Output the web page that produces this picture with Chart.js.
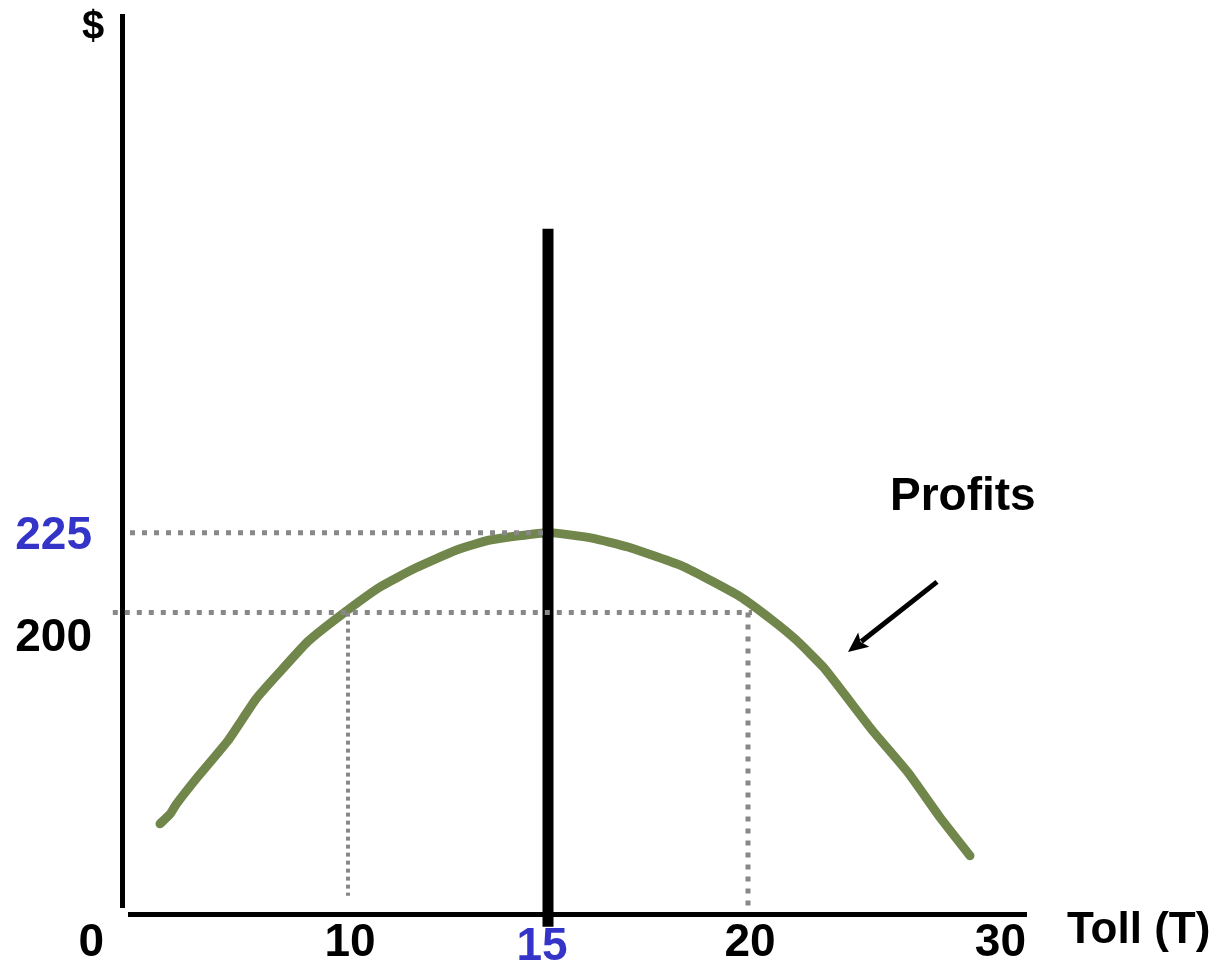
<!DOCTYPE html>
<html>
<head>
<meta charset="utf-8">
<title>Profits vs Toll</title>
<script src="https://cdn.jsdelivr.net/npm/chart.js@4/dist/chart.umd.min.js"></script>
<style>
  html, body { margin: 0; padding: 0; background: #ffffff; }
  #wrap { width: 1216px; height: 963px; }
</style>
</head>
<body>
<div id="wrap"><canvas id="chart" width="1216" height="963"></canvas></div>
<script>
// Profit curve as a function of the toll
const tolls   = [5.3, 5.55, 5.7, 6.2, 7.0, 7.7, 8.3, 9.0, 9.8, 10.8, 11.7, 12.7, 13.55, 15, 16.1, 17.0, 18.4, 19.8, 20.6, 21.2, 21.9, 23.1, 24.0, 24.8, 25.55];
const profits = [134, 137, 140, 148, 160, 173, 181.5, 191, 199, 208, 214, 219.5, 222.7, 225, 223.3, 220.5, 214.3, 205, 197.7, 191.5, 182.7, 163.3, 150, 136, 124];

// Optimal toll and the profit it yields
const optimalToll = 15;
const maxProfit = 225;
// Two tolls giving the same lower profit
const sideTolls = [10, 20];
const sideProfit = 200;

// Axis tick labels
const xTickValues = [10, 15, 20];
const xTickLabels = ['10', '15', '20'];
const yTickValues = [200, 225];
const yTickLabels = ['200', '225'];
const xStartLabel = '0';
const xEndLabel = '30';
const xAxisTitle = 'Toll (T)';
const yAxisTitle = '$';
const curveLabel = 'Profits';

// Visible window of the axes
const xRange = [4.35, 26.975];
const yRange = [105.8, 387.1];

const GREEN = '#71864b';
const BLUE = '#3434c8';
const DOT = '#888888';
const FONT = '"Liberation Sans", Arial, sans-serif';

const curveData = tolls.map((t, i) => ({ x: t, y: profits[i] }));

function dotted(points, width, dash) {
  return {
    data: points,
    borderColor: DOT,
    borderWidth: width,
    borderDash: dash,
    borderCapStyle: 'butt',
    pointRadius: 0,
    fill: false,
    clip: false,
    order: 0
  };
}

// Axes, labels and the annotation arrow
const decorations = {
  id: 'decorations',
  beforeDatasetsDraw(chart) {
    const { ctx, chartArea: a } = chart;
    ctx.save();
    ctx.strokeStyle = '#000';
    ctx.lineCap = 'butt';
    ctx.lineWidth = 5;
    ctx.beginPath();
    ctx.moveTo(a.left + 0.5, a.top);
    ctx.lineTo(a.left + 0.5, a.bottom - 6);
    ctx.stroke();
    ctx.beginPath();
    ctx.moveTo(a.left + 6, a.bottom + 0.5);
    ctx.lineTo(a.right, a.bottom + 0.5);
    ctx.stroke();
    ctx.restore();
  },
  afterDraw(chart) {
    const { ctx, chartArea: a, scales: { x, y } } = chart;
    ctx.save();
    ctx.textBaseline = 'alphabetic';

    // x tick labels
    ctx.font = 'bold 46px ' + FONT;
    ctx.textAlign = 'center';
    xTickValues.forEach((v, i) => {
      const isOpt = v === optimalToll;
      ctx.fillStyle = isOpt ? BLUE : '#000';
      const px = x.getPixelForValue(v);
      ctx.fillText(xTickLabels[i], px + (isOpt ? -6 : 2), isOpt ? 960 : 956);
    });
    ctx.fillStyle = '#000';
    ctx.textAlign = 'right';
    ctx.fillText(xStartLabel, a.left - 18, 956);
    ctx.fillText(xEndLabel, a.right - 1, 956);

    // y tick labels
    yTickValues.forEach((v, i) => {
      const isOpt = v === maxProfit;
      ctx.fillStyle = isOpt ? BLUE : '#000';
      const py = y.getPixelForValue(v);
      ctx.fillText(yTickLabels[i], 92, py + (isOpt ? 16.5 : 38.5));
    });

    // axis titles
    ctx.fillStyle = '#000';
    ctx.textAlign = 'left';
    ctx.font = 'bold 44px ' + FONT;
    ctx.fillText(xAxisTitle, 1067, 943);
    ctx.textAlign = 'center';
    ctx.font = 'bold 40px ' + FONT;
    ctx.fillText(yAxisTitle, 93, 39);

    // curve label with arrow
    ctx.textAlign = 'left';
    ctx.font = 'bold 46px ' + FONT;
    ctx.fillText(curveLabel, x.getPixelForValue(23.55), y.getPixelForValue(232.1));

    const tx = x.getPixelForValue(22.5), ty = y.getPixelForValue(187.7);
    const sx = x.getPixelForValue(24.725), sy = y.getPixelForValue(209.6);
    const ang = Math.atan2(ty - sy, tx - sx);
    const head = 20, half = 9;
    ctx.strokeStyle = '#000';
    ctx.lineWidth = 5;
    ctx.beginPath();
    ctx.moveTo(sx, sy);
    ctx.lineTo(tx - Math.cos(ang) * (head - 3), ty - Math.sin(ang) * (head - 3));
    ctx.stroke();
    ctx.fillStyle = '#000';
    ctx.beginPath();
    ctx.moveTo(tx, ty);
    ctx.lineTo(tx - Math.cos(ang) * head + Math.sin(ang) * half, ty - Math.sin(ang) * head - Math.cos(ang) * half);
    ctx.lineTo(tx - Math.cos(ang) * head * 0.8, ty - Math.sin(ang) * head * 0.8);
    ctx.lineTo(tx - Math.cos(ang) * head - Math.sin(ang) * half, ty - Math.sin(ang) * head + Math.cos(ang) * half);
    ctx.closePath();
    ctx.fill();
    ctx.restore();
  }
};

new Chart(document.getElementById('chart'), {
  type: 'line',
  data: {
    datasets: [
      // reference lines
      dotted([{ x: 4.55, y: maxProfit }, { x: optimalToll, y: maxProfit }], 5, [5, 7]),
      dotted([{ x: 4.12, y: sideProfit }, { x: sideTolls[1] + 0.1, y: sideProfit }], 5, [5, 7]),
      dotted([{ x: sideTolls[0], y: sideProfit }, { x: sideTolls[0], y: 111.5 }], 4, [4, 4]),
      dotted([{ x: sideTolls[1], y: sideProfit }, { x: sideTolls[1], y: 107 }], 5, [5, 7]),
      // optimal toll marker
      {
        data: [{ x: optimalToll, y: 320 }, { x: optimalToll, y: 101.8 }],
        borderColor: '#000',
        borderWidth: 11,
        borderCapStyle: 'butt',
        pointRadius: 0,
        clip: false,
        order: 1
      },
      // profit curve
      {
        data: curveData,
        borderColor: GREEN,
        borderWidth: 9,
        borderCapStyle: 'round',
        borderJoinStyle: 'round',
        tension: 0.15,
        pointRadius: 0,
        clip: false,
        order: 2
      }
    ]
  },
  options: {
    responsive: false,
    devicePixelRatio: 1,
    animation: false,
    layout: { padding: { left: 122, right: 189, top: 14, bottom: 49 } },
    plugins: { legend: { display: false }, tooltip: { enabled: false } },
    scales: {
      x: { type: 'linear', min: xRange[0], max: xRange[1], display: false },
      y: { type: 'linear', min: yRange[0], max: yRange[1], display: false }
    }
  },
  plugins: [decorations]
});
</script>
</body>
</html>
